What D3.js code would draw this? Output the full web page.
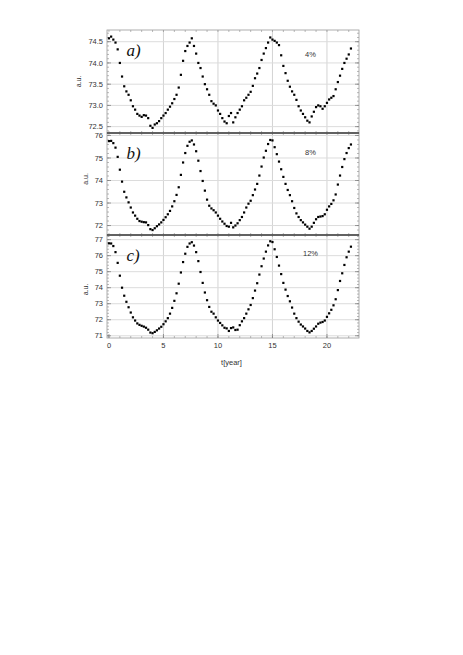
<!DOCTYPE html>
<html><head><meta charset="utf-8">
<script src="https://cdn.jsdelivr.net/npm/d3@7"></script>
<style>body{margin:0;background:#fff}svg{display:block}</style>
</head><body>
<script>
const years = [0.0,0.2,0.4,0.6,0.8,1.0,1.2,1.4,1.6,1.8,2.0,2.2,2.4,2.6,2.8,3.0,3.2,3.4,3.6,3.8,4.0,4.2,4.4,4.6,4.8,5.0,5.2,5.4,5.6,5.8,6.0,6.2,6.4,6.6,6.8,7.0,7.2,7.4,7.6,7.8,8.0,8.2,8.4,8.6,8.8,9.0,9.2,9.4,9.6,9.8,10.0,10.2,10.4,10.6,10.8,11.0,11.2,11.4,11.6,11.8,12.0,12.2,12.4,12.6,12.8,13.0,13.2,13.4,13.6,13.8,14.0,14.2,14.4,14.6,14.8,15.0,15.2,15.4,15.6,15.8,16.0,16.2,16.4,16.6,16.8,17.0,17.2,17.4,17.6,17.8,18.0,18.2,18.4,18.6,18.8,19.0,19.2,19.4,19.6,19.8,20.0,20.2,20.4,20.6,20.8,21.0,21.2,21.4,21.6,21.8,22.0,22.2];

const seriesA = [74.58,74.62,74.55,74.48,74.32,74.00,73.68,73.45,73.33,73.25,73.12,72.98,72.90,72.80,72.76,72.73,72.77,72.76,72.70,72.52,72.47,72.55,72.58,72.63,72.70,72.76,72.82,72.90,72.97,73.05,73.15,73.25,73.42,73.72,74.05,74.28,74.40,74.48,74.58,74.40,74.22,74.00,73.88,73.68,73.50,73.38,73.25,73.10,73.04,73.00,72.88,72.80,72.70,72.62,72.58,72.75,72.82,72.60,72.72,72.82,72.90,72.98,73.12,73.18,73.25,73.32,73.46,73.64,73.75,73.88,74.07,74.22,74.35,74.48,74.60,74.55,74.52,74.48,74.42,74.18,73.93,73.76,73.58,73.44,73.33,73.25,73.13,72.98,72.88,72.80,72.72,72.64,72.60,72.74,72.85,72.96,73.00,72.98,72.92,72.98,73.06,73.14,73.18,73.22,73.38,73.55,73.70,73.86,74.00,74.10,74.20,74.34];

const seriesB = [75.75,75.76,75.66,75.46,75.05,74.48,73.95,73.50,73.25,73.03,72.80,72.58,72.44,72.30,72.20,72.17,72.15,72.14,72.02,71.84,71.80,71.88,71.97,72.05,72.14,72.25,72.37,72.50,72.65,72.85,73.08,73.36,73.70,74.25,74.80,75.22,75.54,75.72,75.78,75.60,75.30,74.88,74.42,73.98,73.55,73.15,72.88,72.76,72.68,72.58,72.44,72.30,72.18,72.08,71.98,71.95,72.12,71.92,72.00,72.10,72.24,72.38,72.58,72.80,72.97,73.10,73.35,73.60,73.85,74.22,74.62,75.02,75.32,75.62,75.80,75.78,75.48,75.17,74.84,74.50,74.16,73.85,73.58,73.35,73.08,72.78,72.54,72.38,72.24,72.14,72.04,71.95,71.86,71.95,72.12,72.28,72.38,72.40,72.42,72.50,72.70,72.85,72.96,73.12,73.38,73.82,74.22,74.60,74.95,75.22,75.44,75.60];

const seriesC = [76.77,76.76,76.60,76.22,75.55,74.75,74.00,73.50,73.12,72.78,72.45,72.15,71.95,71.77,71.68,71.62,71.57,71.50,71.38,71.20,71.16,71.24,71.34,71.45,71.56,71.72,71.90,72.10,72.38,72.74,73.18,73.65,74.25,74.95,75.60,76.12,76.55,76.76,76.84,76.63,76.22,75.66,74.98,74.30,73.70,73.22,72.80,72.50,72.38,72.15,71.95,71.80,71.65,71.50,71.46,71.30,71.48,71.52,71.36,71.38,71.66,71.90,72.10,72.38,72.65,72.92,73.35,73.82,74.28,74.82,75.34,75.82,76.25,76.64,76.90,76.85,76.40,75.92,75.38,74.85,74.30,73.88,73.48,73.15,72.76,72.38,72.10,71.88,71.70,71.58,71.45,71.30,71.21,71.30,71.44,71.58,71.75,71.82,71.86,71.95,72.18,72.40,72.62,72.90,73.28,73.85,74.42,74.90,75.42,75.90,76.25,76.56];

const xTicks = [0, 5, 10, 15, 20];
const ticksA = [72.5, 73.0, 73.5, 74.0, 74.5];
const ticksB = [72, 73, 74, 75, 76];
const ticksC = [71, 72, 73, 74, 75, 76, 77];
const panelLabels = ["a)", "b)", "c)"];
const percentLabels = ["4%", "8%", "12%"];
const yLabel = "a.u.";
const xLabel = "t[year]";

const W = 463, H = 655;
const svg = d3.select("body").append("svg").attr("width", W).attr("height", H);
svg.append("rect").attr("width", W).attr("height", H).attr("fill", "#fff");

const left = 107, right = 359;
const x = d3.scaleLinear().domain([-0.18, 22.94]).range([left, right]);

const panels = [
  {top: 30, bottom: 133, domain: [72.35, 74.776], ticks: ticksA, fmt: d3.format(".1f"), minor: 0.1, series: seriesA, ylx: 78.5},
  {top: 133, bottom: 235, domain: [71.58, 76.11], ticks: ticksB, fmt: d3.format("d"), minor: 0.2, series: seriesB, ylx: 85.5},
  {top: 235, bottom: 338, domain: [70.86, 77.29], ticks: ticksC, fmt: d3.format("d"), minor: 0.2, series: seriesC, ylx: 85.5}
];

const font = "Liberation Sans, Arial, sans-serif";

panels.forEach((p, i) => {
  const y = d3.scaleLinear().domain(p.domain).range([p.bottom, p.top]);
  const g = svg.append("g");
  g.selectAll(".vg").data(xTicks.filter(t => t > 0)).join("line")
    .attr("x1", d => x(d)).attr("x2", d => x(d)).attr("y1", p.top).attr("y2", p.bottom)
    .attr("stroke", "#d4d4d4").attr("stroke-width", 1);
  g.selectAll(".hg").data(p.ticks).join("line")
    .attr("x1", left).attr("x2", right).attr("y1", d => y(d)).attr("y2", d => y(d))
    .attr("stroke", "#dcdcdc").attr("stroke-width", 1);
  const minorY = d3.range(Math.ceil(p.domain[0] / p.minor) * p.minor, p.domain[1], p.minor);
  g.selectAll(".my").data(minorY).join("path")
    .attr("d", d => `M${left},${y(d)}h2M${right},${y(d)}h-2`)
    .attr("stroke", "#888").attr("stroke-width", 0.6);
  g.selectAll(".My").data(p.ticks).join("path")
    .attr("d", d => `M${left},${y(d)}h4M${right},${y(d)}h-4`)
    .attr("stroke", "#777").attr("stroke-width", 0.7);
  const minorX = d3.range(0, 23, 1);
  g.selectAll(".mx").data(minorX).join("path")
    .attr("d", d => `M${x(d)},${p.top}v2M${x(d)},${p.bottom}v-2`)
    .attr("stroke", "#888").attr("stroke-width", 0.6);
  g.append("rect").attr("x", left).attr("y", p.top).attr("width", right - left).attr("height", p.bottom - p.top)
    .attr("fill", "none").attr("stroke", "#999").attr("stroke-width", 0.8);
  g.selectAll(".yl").data(p.ticks).join("text")
    .attr("x", 103).attr("y", d => y(d)).attr("dy", "0.35em")
    .attr("text-anchor", "end").attr("font-family", font).attr("font-size", 7.5).attr("fill", "#333")
    .text(d => p.fmt(d));
  const cy = (p.top + p.bottom) / 2 + [0, -5, 3][i];
  g.append("text").attr("transform", `translate(${p.ylx},${cy}) rotate(-90)`)
    .attr("text-anchor", "middle").attr("dy", "0.35em")
    .attr("font-family", font).attr("font-size", 7).attr("fill", "#333").text(yLabel);
  g.append("text").attr("x", 126.5).attr("y", p.top + 26)
    .attr("font-family", "Liberation Serif, Times New Roman, serif").attr("font-style", "italic")
    .attr("font-size", 17).attr("fill", "#111").text(panelLabels[i]);
  g.append("text").attr("x", 310.5).attr("y", p.top + [24, 19, 18][i]).attr("dy", "0.35em")
    .attr("text-anchor", "middle").attr("font-family", font).attr("font-size", 7.5).attr("fill", "#333")
    .text(percentLabels[i]);
  g.selectAll(".pt").data(p.series).join("rect")
    .attr("x", (d, k) => x(years[k]) - 1.1).attr("y", d => y(d) - 1.1)
    .attr("width", 2.2).attr("height", 2.2).attr("fill", "#000");
});

[133, 235].forEach(yy => {
  svg.append("line").attr("x1", left).attr("x2", right).attr("y1", yy).attr("y2", yy)
    .attr("stroke", "#444").attr("stroke-width", 1.3);
});

svg.selectAll(".xl").data(xTicks).join("text")
  .attr("x", d => x(d)).attr("y", 348)
  .attr("text-anchor", "middle").attr("font-family", font).attr("font-size", 7.5).attr("fill", "#333")
  .text(d => d);
svg.selectAll(".xM").data(xTicks).join("path")
  .attr("d", d => `M${x(d)},338v-4`).attr("stroke", "#777").attr("stroke-width", 0.7);

svg.append("text").attr("x", 231.5).attr("y", 365).attr("text-anchor", "middle")
  .attr("font-family", font).attr("font-size", 7.5).attr("fill", "#333").text(xLabel);
</script>
</body></html>
